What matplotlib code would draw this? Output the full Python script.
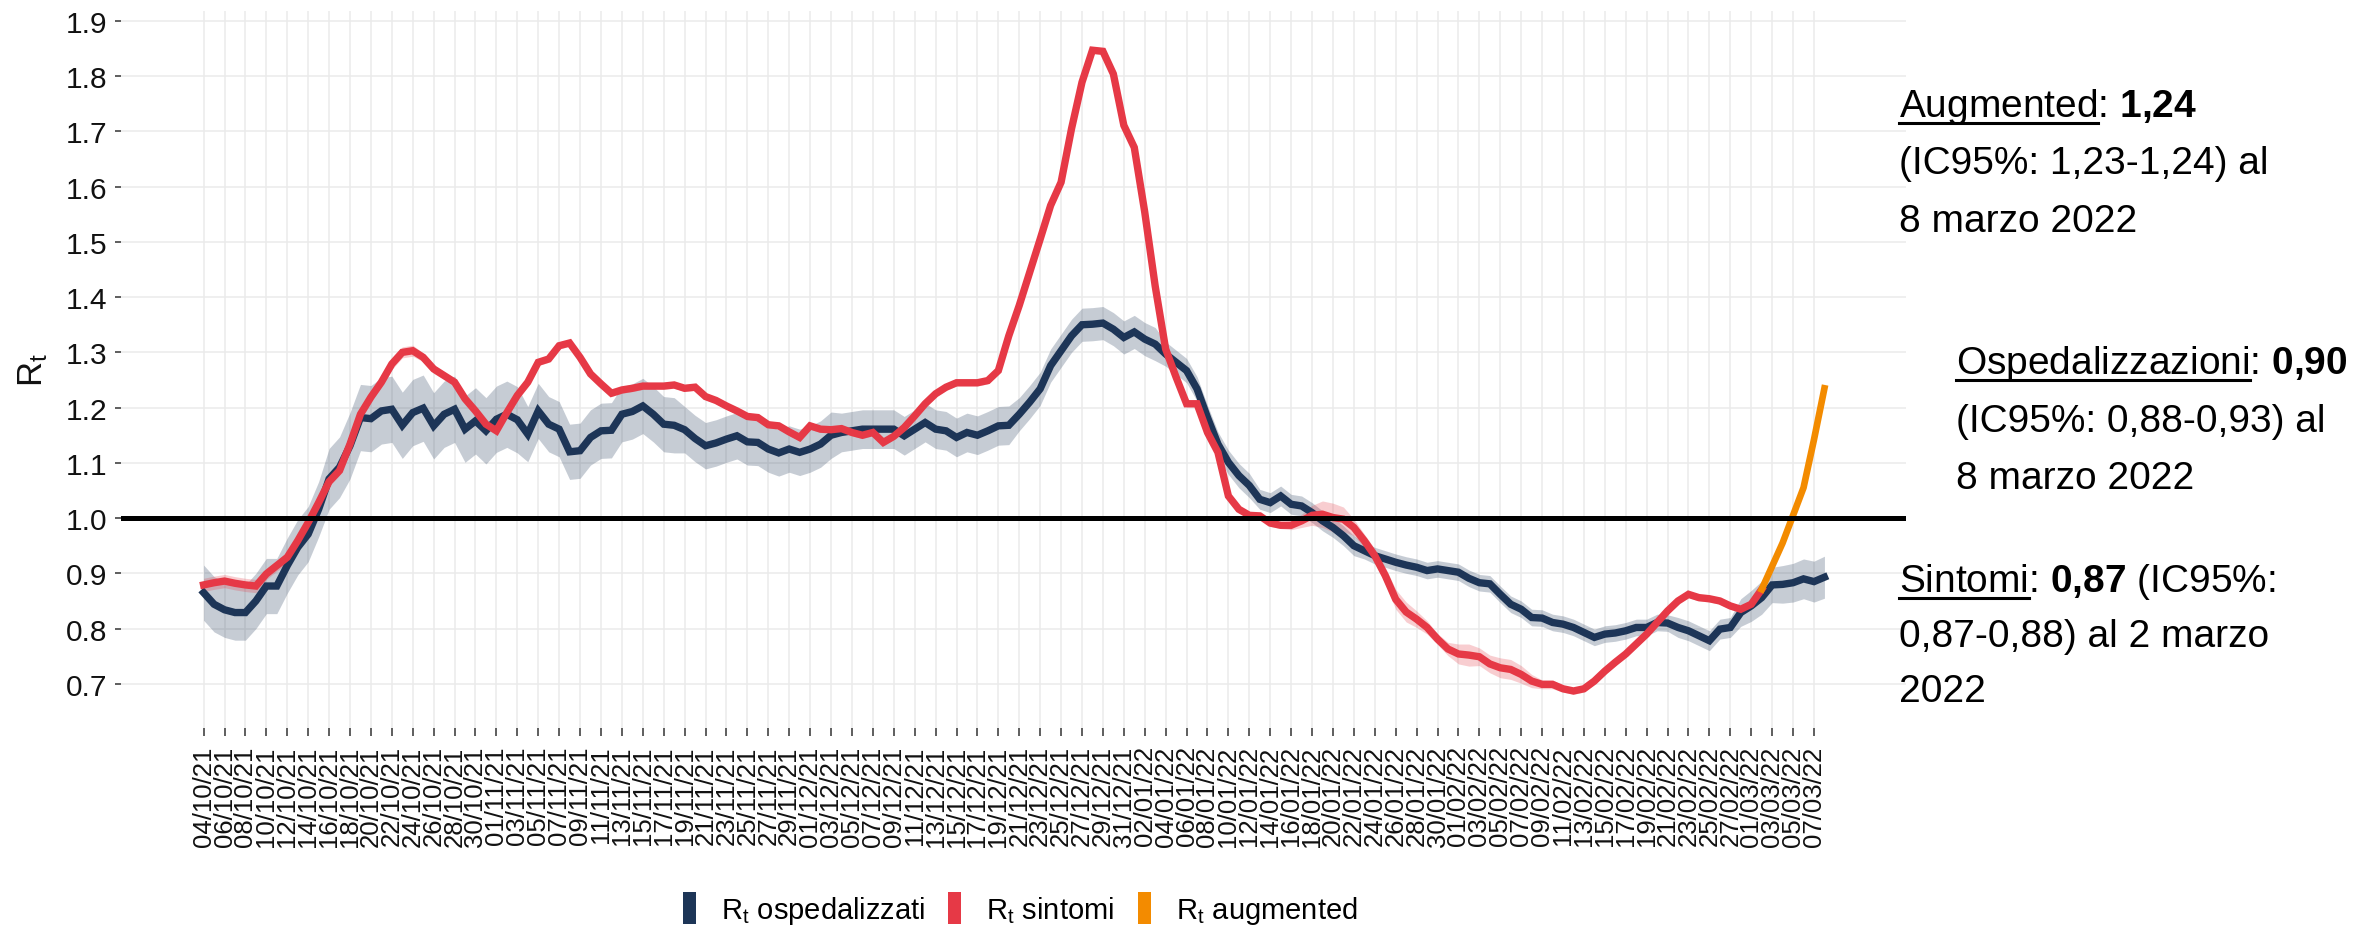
import numpy as np
import pandas as pd
import matplotlib
matplotlib.use("Agg")
import matplotlib.pyplot as plt
import matplotlib.dates as mdates
from matplotlib.patches import Patch
from matplotlib.lines import Line2D

# daily series, first day 04/10/2021
start = "2021-10-04"
osp = [0.865, 0.844, 0.834, 0.829, 0.829, 0.850, 0.877, 0.877, 0.914, 0.947,
       0.971, 1.016, 1.071, 1.092, 1.131, 1.182, 1.180, 1.194, 1.197, 1.168,
       1.191, 1.199, 1.167, 1.188, 1.197, 1.161, 1.176, 1.158, 1.179, 1.188,
       1.178, 1.152, 1.194, 1.170, 1.161, 1.120, 1.122, 1.146, 1.158, 1.159,
       1.188, 1.193, 1.203, 1.188, 1.170, 1.168, 1.160, 1.144, 1.131, 1.136,
       1.143, 1.149, 1.138, 1.137, 1.125, 1.118, 1.125, 1.119, 1.125, 1.134,
       1.150, 1.155, 1.158, 1.161, 1.161, 1.161, 1.161, 1.149, 1.161, 1.173,
       1.161, 1.158, 1.146, 1.155, 1.150, 1.158, 1.167, 1.168, 1.188, 1.210,
       1.234, 1.276, 1.303, 1.330, 1.350, 1.351, 1.353, 1.342, 1.327, 1.337,
       1.324, 1.315, 1.297, 1.282, 1.267, 1.234, 1.182, 1.134, 1.101, 1.077,
       1.059, 1.034, 1.028, 1.040, 1.025, 1.022, 1.010, 0.995, 0.983, 0.968,
       0.950, 0.941, 0.932, 0.926, 0.920, 0.915, 0.911, 0.905, 0.908, 0.905,
       0.902, 0.891, 0.883, 0.881, 0.862, 0.844, 0.835, 0.820, 0.819, 0.811,
       0.808, 0.802, 0.793, 0.784, 0.790, 0.792, 0.796, 0.802, 0.802, 0.811,
       0.810, 0.802, 0.796, 0.787, 0.778, 0.799, 0.802, 0.829, 0.841, 0.856,
       0.879, 0.880, 0.883, 0.890, 0.885, 0.893]
osp_ci = [0.05, 0.05, 0.05, 0.05, 0.05, 0.05, 0.05, 0.05, 0.05, 0.05,
          0.05, 0.05, 0.055, 0.055, 0.06, 0.06, 0.06, 0.06, 0.06, 0.06,
          0.06, 0.06, 0.06, 0.06, 0.06, 0.06, 0.06, 0.06, 0.06, 0.06,
          0.06, 0.05, 0.05, 0.05, 0.05, 0.05, 0.05, 0.05, 0.05, 0.05,
          0.05, 0.05, 0.05, 0.05, 0.05, 0.05, 0.042, 0.042, 0.042, 0.042,
          0.042, 0.042, 0.042, 0.042, 0.042, 0.042, 0.042, 0.042, 0.042, 0.042,
          0.042, 0.035, 0.035, 0.035, 0.035, 0.035, 0.035, 0.035, 0.035, 0.035,
          0.035, 0.035, 0.035, 0.035, 0.035, 0.035, 0.035, 0.035, 0.03, 0.03,
          0.03, 0.03, 0.03, 0.03, 0.03, 0.03, 0.03, 0.03, 0.03, 0.03,
          0.03, 0.03, 0.022, 0.022, 0.022, 0.022, 0.022, 0.022, 0.022, 0.022,
          0.022, 0.018, 0.018, 0.018, 0.018, 0.018, 0.018, 0.018, 0.018, 0.018,
          0.018, 0.015, 0.015, 0.015, 0.015, 0.015, 0.015, 0.015, 0.015, 0.015,
          0.015, 0.015, 0.015, 0.015, 0.015, 0.015, 0.015, 0.015, 0.015, 0.015,
          0.015, 0.015, 0.015, 0.015, 0.015, 0.015, 0.015, 0.015, 0.015, 0.015,
          0.015, 0.018, 0.018, 0.018, 0.018, 0.018, 0.018, 0.025, 0.028, 0.03,
          0.032, 0.034, 0.035, 0.036, 0.037, 0.038]
sint = [0.879, 0.883, 0.886, 0.882, 0.879, 0.877, 0.899, 0.914, 0.929, 0.959,
        0.992, 1.028, 1.066, 1.086, 1.134, 1.188, 1.219, 1.246, 1.279, 1.300,
        1.303, 1.291, 1.270, 1.258, 1.246, 1.216, 1.194, 1.170, 1.158, 1.191,
        1.222, 1.246, 1.282, 1.288, 1.312, 1.317, 1.291, 1.261, 1.243, 1.226,
        1.232, 1.235, 1.239, 1.239, 1.239, 1.241, 1.235, 1.237, 1.220, 1.213,
        1.203, 1.194, 1.184, 1.182, 1.169, 1.167, 1.156, 1.146, 1.167, 1.161,
        1.160, 1.162, 1.155, 1.150, 1.155, 1.137, 1.148, 1.164, 1.185, 1.207,
        1.225, 1.237, 1.245, 1.245, 1.245, 1.249, 1.267, 1.330, 1.385, 1.445,
        1.505, 1.566, 1.608, 1.705, 1.789, 1.847, 1.845, 1.804, 1.711, 1.671,
        1.554, 1.420, 1.306, 1.255, 1.207, 1.207, 1.155, 1.119, 1.040, 1.016,
        1.005, 1.004, 0.991, 0.987, 0.987, 0.995, 1.005, 1.007, 1.001, 0.998,
        0.983, 0.959, 0.932, 0.896, 0.853, 0.830, 0.817, 0.802, 0.781, 0.763,
        0.754, 0.752, 0.749, 0.736, 0.729, 0.726, 0.717, 0.705, 0.699, 0.699,
        0.691, 0.687, 0.691, 0.705, 0.723, 0.739, 0.754, 0.772, 0.790, 0.811,
        0.832, 0.850, 0.862, 0.856, 0.854, 0.850, 0.841, 0.835, 0.844, 0.871]
sint_ci = [0.012, 0.012, 0.012, 0.012, 0.012, 0.012, 0.01, 0.01, 0.01, 0.008,
           0.008, 0.008, 0.008, 0.008, 0.008, 0.008, 0.008, 0.008, 0.01, 0.01,
           0.01, 0.008, 0.008, 0.007, 0.007, 0.007, 0.007, 0.007, 0.007, 0.007,
           0.006, 0.006, 0.006, 0.006, 0.006, 0.006, 0.006, 0.006, 0.006, 0.006,
           0.006, 0.006, 0.006, 0.006, 0.006, 0.006, 0.006, 0.006, 0.006, 0.006,
           0.006, 0.006, 0.006, 0.006, 0.006, 0.006, 0.006, 0.006, 0.006, 0.006,
           0.006, 0.006, 0.006, 0.006, 0.006, 0.006, 0.006, 0.006, 0.006, 0.006,
           0.006, 0.006, 0.006, 0.006, 0.006, 0.006, 0.006, 0.006, 0.006, 0.006,
           0.006, 0.006, 0.006, 0.006, 0.006, 0.006, 0.006, 0.006, 0.006, 0.006,
           0.006, 0.006, 0.006, 0.006, 0.006, 0.006, 0.006, 0.006, 0.006, 0.006,
           0.006, 0.006, 0.006, 0.006, 0.008, 0.012, 0.018, 0.024, 0.026, 0.022,
           0.015, 0.012, 0.012, 0.015, 0.018, 0.018, 0.015, 0.012, 0.01, 0.012,
           0.018, 0.02, 0.016, 0.016, 0.018, 0.018, 0.016, 0.012, 0.008, 0.008,
           0.006, 0.006, 0.006, 0.006, 0.006, 0.006, 0.006, 0.006, 0.006, 0.006,
           0.006, 0.006, 0.006, 0.006, 0.006, 0.006, 0.006, 0.006, 0.006, 0.006]
aug_start = "2022-03-02"
aug = [0.871, 0.913, 0.955, 1.005, 1.055, 1.142, 1.235]

tick_first, tick_last = "2021-10-04", "2022-03-07"
yticks = [0.7, 0.8, 0.9, 1.0, 1.1, 1.2, 1.3, 1.4, 1.5, 1.6, 1.7, 1.8, 1.9]
labels = ["R$_\\mathregular{t}$ ospedalizzati", "R$_\\mathregular{t}$ sintomi",
          "R$_\\mathregular{t}$ augmented"]

navy, red, orange = "#1d3557", "#e63946", "#f38b00"

plt.rcParams['font.family'] = ['Liberation Sans', 'DejaVu Sans']
plt.rcParams['mathtext.fontset'] = 'custom'
plt.rcParams['mathtext.rm'] = 'Liberation Sans'
plt.rcParams['mathtext.bf'] = 'Liberation Sans:bold'
plt.rcParams['mathtext.it'] = 'Liberation Sans:italic'

W, H = 2357, 928
fig = plt.figure(figsize=(W / 100, H / 100), dpi=100)
ax = fig.add_axes([121 / W, 1 - 729 / H, (1906 - 121) / W, (729 - 12) / H])

d_osp = pd.date_range(start, periods=len(osp))
d_sint = pd.date_range(start, periods=len(sint))
d_aug = pd.date_range(aug_start, periods=len(aug))
osp_a, osp_c = np.array(osp), np.array(osp_ci)
sint_a, sint_c = np.array(sint), np.array(sint_ci)

ax.fill_between(d_osp, osp_a - osp_c, osp_a + osp_c, color=navy, alpha=0.25, lw=0, zorder=2)
ax.fill_between(d_sint, sint_a - sint_c, sint_a + sint_c, color=red, alpha=0.25, lw=0, zorder=2)
ax.plot(d_osp, osp_a, color=navy, lw=5.3, zorder=3, solid_joinstyle='miter')
ax.plot(d_sint, sint_a, color=red, lw=5.3, zorder=4, solid_joinstyle='miter')
ax.plot(d_aug, aug, color=orange, lw=4.8, zorder=5)
ax.axhline(1.0, color='black', lw=3.6, zorder=6)

t0 = pd.Timestamp(start)
ax.set_xlim(t0 - pd.Timedelta(days=7.9), t0 + pd.Timedelta(days=162.8))
ax.set_ylim(0.620, 1.918)
ax.set_xticks(pd.date_range(tick_first, tick_last, freq='2D'))
ax.xaxis.set_major_formatter(mdates.DateFormatter('%d/%m/%y'))
ax.set_yticks(yticks)
ax.set_yticklabels([f"{v:.1f}" for v in yticks])

ax.grid(True, color='#ebebeb', lw=1.1)
ax.set_axisbelow(True)
for s in ax.spines.values():
    s.set_visible(False)
ax.tick_params(axis='x', length=5.5, width=1.1, color='#333333', pad=7,
               labelsize=18.5, labelrotation=90, labelcolor='#111111')
ax.tick_params(axis='y', length=4.5, width=1.1, color='#333333', pad=5.5,
               labelsize=21.5, labelcolor='#111111')
ax.set_ylabel("R$_\\mathregular{t}$", fontsize=25, color='#111111')
ax.yaxis.set_label_coords(-0.040, 0.5)

handles = [Patch(facecolor=c, edgecolor='none') for c in (navy, red, orange)]
fig.legend(handles, labels, loc='center', bbox_to_anchor=(1020 / W, 1 - 910 / H),
           ncol=3, frameon=False, fontsize=21, handlelength=0.45, handleheight=1.3,
           handletextpad=0.85, columnspacing=0.8)

# right-hand notes
renderer = fig.canvas.get_renderer()


def note_line(x, y, text, ul=None):
    fig.text(x / W, 1 - y / H, text, fontsize=28, va='baseline', ha='left', color='black')
    if ul:
        t = fig.text(x / W, 1 - y / H, ul, fontsize=28, va='baseline', ha='left', alpha=0)
        w = t.get_window_extent(renderer).width
        fig.add_artist(Line2D([x / W, (x + w) / W], [1 - (y + 7) / H] * 2,
                              color='black', lw=2.2))


note_line(1899, 117, "Augmented: $\\mathbf{1{,}24}$", ul="Augmented")
note_line(1899, 174, "(IC95%: 1,23-1,24) al")
note_line(1899, 232, "8 marzo 2022")
note_line(1956, 374, "Ospedalizzazioni: $\\mathbf{0{,}90}$", ul="Ospedalizzazioni")
note_line(1956, 432, "(IC95%: 0,88-0,93) al")
note_line(1956, 489, "8 marzo 2022")
note_line(1899, 592, "Sintomi: $\\mathbf{0{,}87}$ (IC95%:", ul="Sintomi")
note_line(1899, 647, "0,87-0,88) al 2 marzo")
note_line(1899, 702, "2022")

fig.savefig("out.png", dpi=100)
